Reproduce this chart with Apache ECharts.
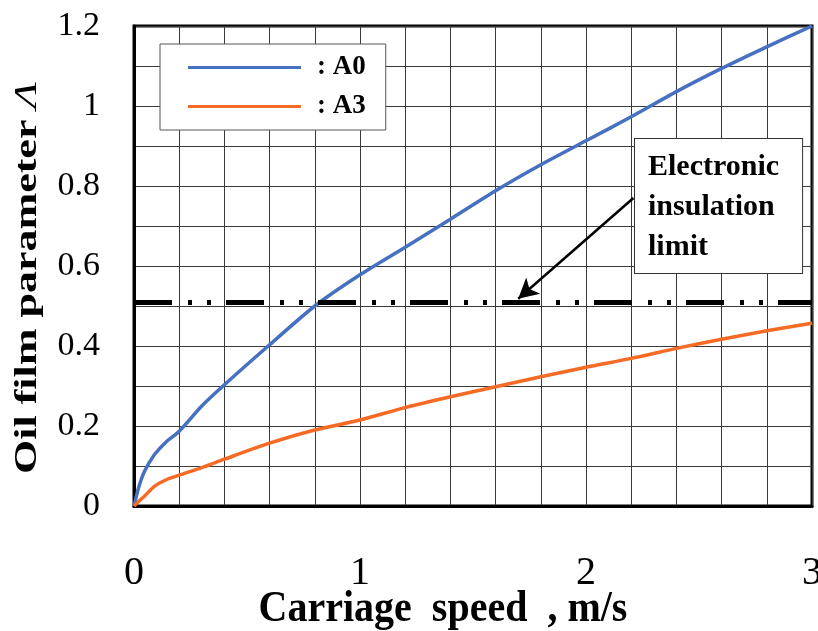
<!DOCTYPE html>
<html>
<head>
<meta charset="utf-8">
<script src="https://cdn.jsdelivr.net/npm/echarts@6/dist/echarts.min.js"></script>
<style>
  html, body { margin: 0; padding: 0; background: #fff; }
  #main { width: 818px; height: 631px; }
</style>
</head>
<body>
<div id="main"></div>
<script>
// carriage speed, m/s
const speed = [0, 0.02, 0.045, 0.09, 0.14, 0.2, 0.3, 0.4, 0.6, 0.8, 1.0, 1.2, 1.4, 1.6, 1.8, 2.0, 2.2, 2.4, 2.6, 2.8, 3.0];
// oil film parameter
const a0 = [0, 0.045, 0.085, 0.128, 0.159, 0.187, 0.25, 0.303, 0.403, 0.50, 0.578, 0.647, 0.717, 0.788, 0.853, 0.913, 0.973, 1.036, 1.094, 1.148, 1.2];
const a3 = [0, 0.011, 0.024, 0.049, 0.065, 0.077, 0.096, 0.117, 0.157, 0.19, 0.215, 0.246, 0.273, 0.298, 0.323, 0.347, 0.369, 0.394, 0.417, 0.438, 0.457];
const insulationLimit = 0.51;
// arrow from the note box down to the limit line (data coords)
const arrowFrom = [2.21, 0.77];
const arrowTo = [1.70, 0.518];

const serif = '"Liberation Serif", "Times New Roman", serif';

const pairs = (ys) => speed.map((x, i) => [x, ys[i]]);

const chart = echarts.init(document.getElementById("main"));
const option = {
  animation: false,
  grid: {
    left: 134,
    right: 6,
    top: 26,
    bottom: 125,
    outerBoundsMode: "none",
    containLabel: false,
    show: true,
    borderColor: "#000",
    borderWidth: 3,
  },
  legend: {
    data: ["A0", "A3"],
    orient: "vertical",
    left: 160,
    top: 44,
    padding: [10, 20, 10, 28],
    itemGap: 12,
    itemWidth: 113,
    itemHeight: 3,
    icon: "rect",
    backgroundColor: "#fff",
    borderColor: "#555",
    borderWidth: 1,
    formatter: ": {name}",
    textStyle: {
      fontFamily: serif,
      fontWeight: "bold",
      fontSize: 27,
      color: "#000",
      padding: [0, 0, 0, 11],
    },
  },
  xAxis: {
    type: "value",
    min: 0,
    max: 3,
    interval: 1,
    axisLine: { show: true, lineStyle: { color: "#000", width: 3 } },
    axisTick: { show: false },
    splitLine: { show: true, lineStyle: { color: "#3a3a3a", width: 1 } },
    minorTick: { show: false, splitNumber: 5 },
    minorSplitLine: { show: true, lineStyle: { color: "#3a3a3a", width: 1 } },
    axisLabel: {
      fontFamily: serif,
      fontSize: 40,
      color: "#000",
      margin: 47,
    },
  },
  yAxis: {
    type: "value",
    min: 0,
    max: 1.2,
    interval: 0.2,
    axisLine: { show: true, lineStyle: { color: "#000", width: 3 } },
    axisTick: { show: false },
    splitLine: { show: true, lineStyle: { color: "#3a3a3a", width: 1 } },
    minorTick: { show: false, splitNumber: 2 },
    minorSplitLine: { show: true, lineStyle: { color: "#3a3a3a", width: 1 } },
    axisLabel: {
      fontFamily: serif,
      fontSize: 34,
      color: "#000",
      margin: 34,
    },
  },
  graphic: [
    {
      type: "text",
      x: 28,
      y: 278,
      rotation: Math.PI / 2,
      scaleX: 1.42,
      style: {
        text: "{b|Oil film parameter }{i|Λ}",
        align: "center",
        verticalAlign: "middle",
        rich: {
          b: { fontFamily: serif, fontWeight: "bold", fontSize: 31, fill: "#000" },
          i: { fontFamily: serif, fontStyle: "italic", fontSize: 31, fill: "#000" },
        },
      },
    },
    {
      type: "text",
      x: 443,
      y: 610,
      scaleY: 1.1,
      style: {
        text: "Carriage  speed  , m/s",
        font: "bold 40px " + serif,
        fill: "#000",
        align: "center",
        verticalAlign: "middle",
      },
    },
    {
      type: "text",
      left: 634,
      top: 138,
      z: 100,
      style: {
        text: "Electronic\ninsulation\nlimit",
        font: "bold 30px " + serif,
        lineHeight: 40,
        fill: "#000",
        backgroundColor: "#fff",
        borderColor: "#333",
        borderWidth: 1,
        padding: [8, 23, 6, 13],
      },
    },
  ],
  series: [
    {
      name: "A0",
      type: "line",
      data: pairs(a0),
      smooth: 0.25,
      symbol: "none",
      color: "#4670C0",
      lineStyle: { width: 3.5, color: "#4670C0" },
      z: 3,
    },
    {
      name: "A3",
      type: "line",
      data: pairs(a3),
      smooth: 0.25,
      symbol: "none",
      color: "#F56A25",
      lineStyle: { width: 3.5, color: "#F56A25" },
      z: 3,
    },
    {
      name: "limit",
      type: "line",
      data: [],
      z: 4,
      markLine: {
        silent: true,
        animation: false,
        label: { show: false },
        emphasis: { disabled: true },
        data: [
          [
            { coord: [0, insulationLimit], symbol: "none",
              lineStyle: { color: "#000", width: 5, type: [38, 16, 4, 15, 4, 15] } },
            { coord: [3, insulationLimit], symbol: "none" },
          ],
          [
            { coord: arrowFrom, symbol: "none",
              lineStyle: { color: "#000", width: 2.5, type: "solid" } },
            { coord: arrowTo, symbol: "arrow", symbolSize: [16, 20] },
          ],
        ],
      },
    },
  ],
};
chart.setOption(option);
</script>
</body>
</html>
